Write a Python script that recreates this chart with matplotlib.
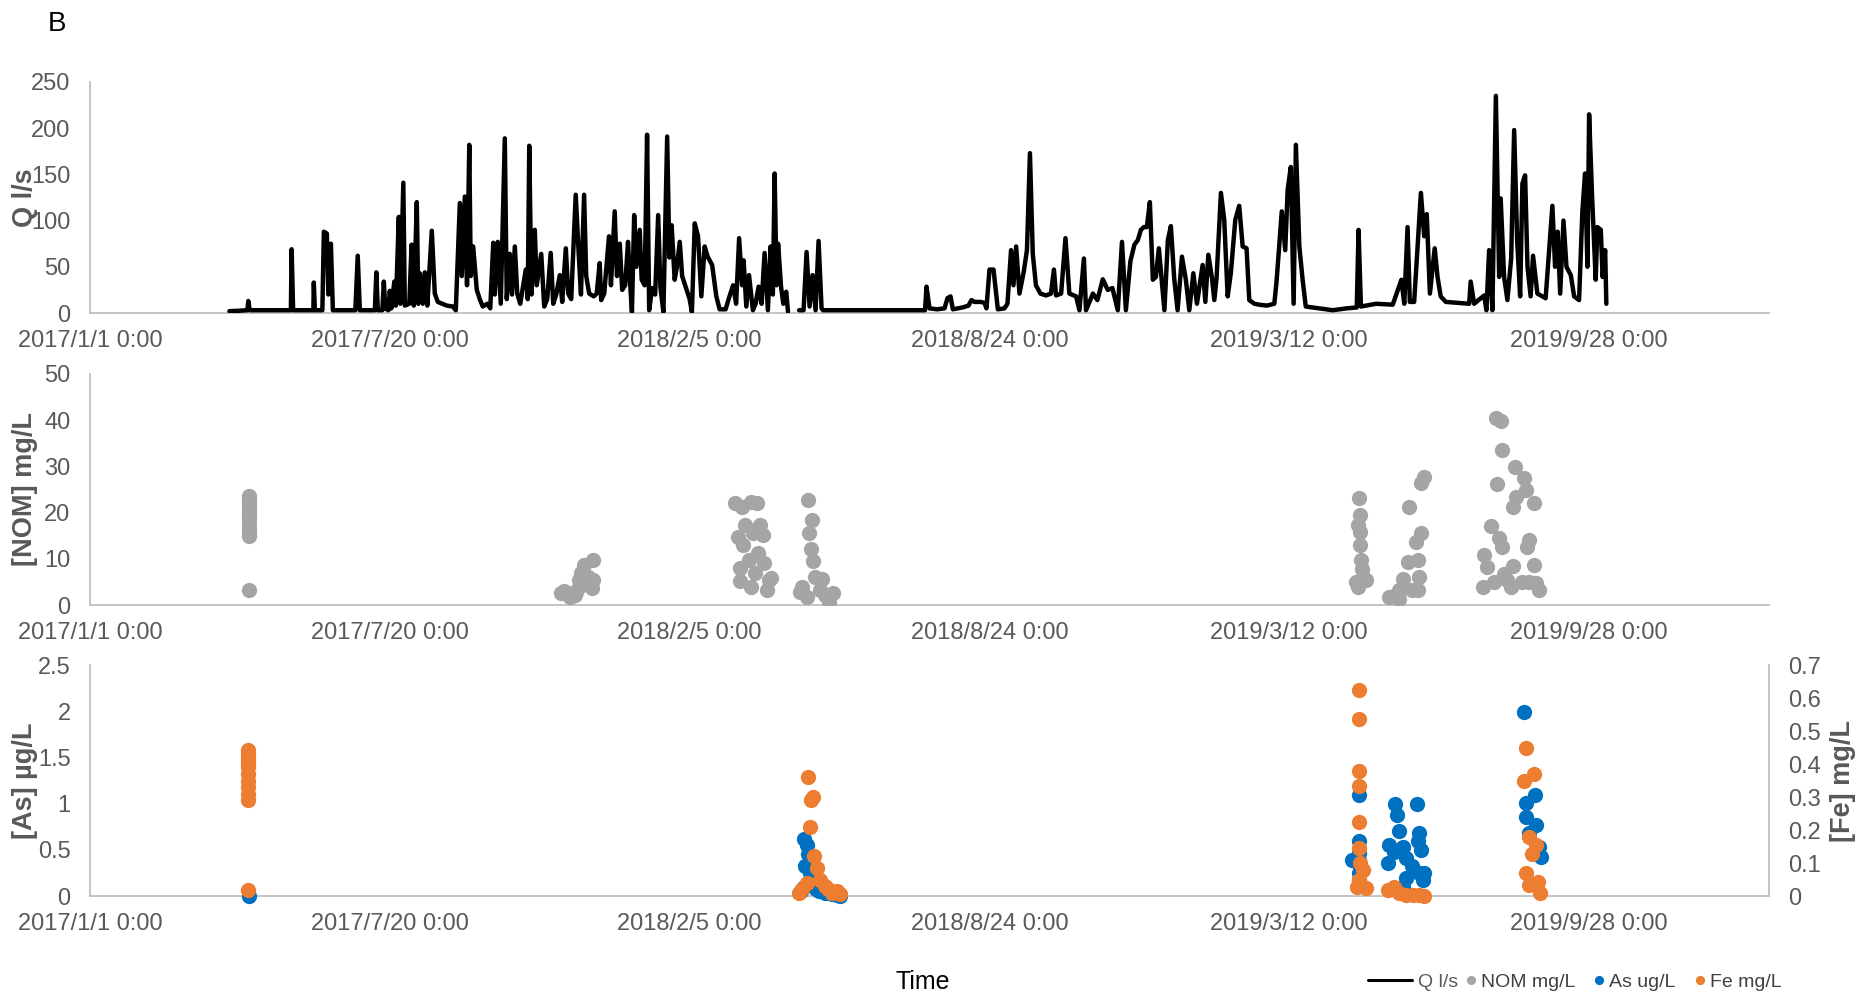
import numpy as np
import pandas as pd
import matplotlib
matplotlib.use("Agg")
import matplotlib.pyplot as plt
import matplotlib.dates as mdates
from matplotlib.ticker import FixedLocator, FuncFormatter

plt.rcParams['font.family'] = ['Liberation Sans', 'DejaVu Sans']

# ---------------- data ----------------
start = pd.Timestamp("2017-01-01")
x_tick_labels = ["2017/1/1 0:00", "2017/7/20 0:00", "2018/2/5 0:00",
                 "2018/8/24 0:00", "2019/3/12 0:00", "2019/9/28 0:00"]
x_max_day = 1120  # days after start where the axis ends

# discharge Q (l/s): day offset from 2017-01-01, value
q_day = [93, 100, 105, 105.6, 106.5, 120, 134, 134.5, 135.5, 149, 149.3, 150, 155, 156, 158, 159, 160.7, 162,
         177, 178.6, 180, 190, 191, 192, 195, 196, 197, 199, 200, 201, 203, 204, 206, 207, 209, 210, 213, 214.5,
         216, 218, 219, 220, 222, 223.4, 225, 228, 230, 232, 235, 238, 242, 244, 246.7, 248, 250, 251.5, 253,
         254, 255.6, 258, 260, 262, 265, 267, 269, 270, 272, 274, 276.7, 278, 280, 281.5, 283.4, 285, 287,
         290.7, 292, 293, 294.5, 296.7, 298, 301, 303, 305, 307.3, 309, 311, 313.4, 315, 317.4, 319, 321, 324,
         326, 327.5, 329.6, 331, 333, 336, 338, 340, 341, 343, 346.2, 347.5, 350, 351.5, 353.4, 355, 357, 358.9,
         360, 361.5, 363, 364.5, 366.7, 368, 370, 371.6, 373, 375, 377, 379, 380.5, 382.5, 385, 386.5, 388, 390,
         391.5, 393.4, 395, 398, 400, 401.5, 403.4,
         405.6, 407.8, 410, 412, 415, 417.8, 420, 424, 426, 429, 431, 433, 435, 436, 437.8, 439.6, 442.2, 444,
         446, 448, 450, 452.2, 454, 455.5, 456.7, 458, 459, 461, 462.5, 464.4, 465.6, 469,
         473, 476, 478, 480, 482, 484, 486, 488, 489, 500, 520, 540, 557, 558, 560, 565, 570, 572, 574, 575.6,
         582, 586, 588, 590, 594, 596.7, 598, 600, 602.7, 605.6, 610, 612, 614.4, 616, 617.8, 620, 622.9, 625,
         627, 628.9, 631, 634, 637.8, 641, 643, 644.4, 647.8, 650.7, 653.3, 657.8, 660, 663, 664.4, 669, 672,
         675.6, 678.9, 682, 685.6, 688.4, 691, 694, 696.7, 699, 701, 703, 705, 707, 709, 711, 713,
         716.7, 719, 721, 723.3, 725.5, 728.4, 731, 733.3, 736, 738.4, 742.2, 744, 746, 748.4, 750, 751.5,
         754.4, 756.6, 758.9, 761, 764, 766.6, 768.9, 771.5, 773.3, 776.7, 780, 785, 790, 791.5, 795, 797.3,
         798.9, 801, 802.9, 804.4, 806.7, 808.9, 811, 820, 829, 838, 845, 846.2, 847.8, 858, 869, 874.8, 876.7,
         878.9, 880.4, 883.3, 887.8, 890, 891.7, 893.8, 897, 898.9, 901, 904.4, 920, 921, 923.3, 930, 931.5,
         933.3, 935.5, 937.8, 940, 941, 943.3, 945.5, 948, 950, 952, 954, 955.5, 957.3, 958.9, 961, 962.6,
         965.5, 971, 975.5, 977.3, 979, 980.7, 982.9, 984.9, 987.8, 990, 993.3, 995.5, 997.3, 998.9, 1000,
         1002, 1004.4, 1005.5, 1007.8, 1009, 1010.7, 1011.5]
q_val = [2, 2.5, 3, 13, 3, 3, 3, 69, 3, 3, 33, 3, 3, 88, 86, 20, 75, 3,
         3, 62, 3, 3, 44, 3, 3, 34, 5, 3, 24, 5, 34, 8, 104, 10, 141, 8, 10, 74,
         8, 120, 10, 43, 10, 44, 8, 89, 21, 12, 10, 8, 7, 3, 119, 40, 126, 30, 182,
         40, 72, 25, 15, 7, 10, 5, 76, 20, 77, 10, 189, 15, 64, 20, 72, 21, 10,
         47, 15, 181, 20, 90, 30, 64, 7, 15, 65, 10, 20, 41, 12, 70, 21, 15, 128,
         64, 20, 128, 40, 21, 18, 21, 54, 14, 21, 83, 30, 110, 40, 75, 25, 30, 77,
         40, 1, 106, 50, 90, 36, 30, 193, 3, 27, 20, 106, 28, 1, 191, 60, 95, 36,
         50, 77, 40, 25, 15, 1, 97,
         83, 18, 72, 61, 52, 18, 4, 4, 15, 30, 10, 81, 30, 57, 7, 41, 3, 10,
         28.5, 10, 65, 3, 72, 20, 151, 30, 75, 28, 10, 23, 1.5, np.nan,
         3, 3, 66, 7, 41, 3, 78, 5, 3, 3, 3, 3, 3, 28.5, 5, 4, 5, 16, 18, 4,
         6, 8, 14, 12, 12, 11, 5, 47, 47, 4, 5, 10, 68, 30, 72, 21, 45, 68,
         173, 64, 30, 21, 19, 21, 47, 19, 21, 81, 21, 18, 3, 59, 3, 21, 14,
         36.5, 25, 27, 3, 77, 3, 56, 74, 79, 90, 93, 93, 120, 36, 39, 70,
         3, 79, 94, 36, 3, 61, 36, 3, 43, 10, 52, 12, 63, 38, 14, 38,
         130, 101, 18, 43, 101, 116, 72, 70, 14, 10, 9, 8, 10, 34, 110, 68,
         133, 158, 10, 182, 72, 36, 7, 5, 3, 5, 6, 90, 7, 10, 9, 36, 10,
         93, 12, 12, 130, 83, 107, 21, 70, 39, 18, 12, 10, 34, 10, 19, 3,
         68, 3, 235, 39, 124, 39, 14, 59, 198, 79, 18, 140, 149, 50, 18, 62,
         21, 16, 116, 50, 88, 21, 100, 50, 41, 18, 14, 110, 151, 50, 215,
         126, 36, 93, 90, 39, 68, 10]

# NOM (mg/L)
nom_day = [106] * 13 + [
    314.4, 318.8, 323.3, 324.8, 326.3, 327.8, 329.3, 335.2, 335.8, 334.6, 332.3, 330, 320, 316,
    430.5, 434.9, 440.9, 444.8, 437, 446.8, 442.4, 448.9, 432, 435.8, 445.4, 439.4, 433.4, 449.8, 433.4,
    440.9, 452.8, 454.3, 451.9, 443.9,
    478.7, 481.6, 479.6, 481.1, 482.5, 483.4, 488.5, 475.1, 473.6, 478.1, 490, 495.9, 493, 487,
    846.7, 847, 846, 847.3, 847, 847.8, 848.4, 849, 845.6, 851, 844.5,
    866.7, 873.3, 880, 887.8, 890, 887.8, 884.4, 879, 885.6, 886.7, 875.6, 882, 885.6, 873, 870,
    937.8, 941, 941.8, 950.7, 938.5, 956.7, 957.8, 951, 949, 963.3, 934.4, 939.6, 942.2, 960, 958.5,
    930, 932, 949, 963.3, 943, 929, 936.7, 947.8, 960, 966.7, 964.4, 945, 955]
nom_val = [23.5, 23.0, 22.5, 21.8, 21.0, 20.2, 19.5, 18.6, 17.5, 16.5, 15.5, 14.9, 3.2,
           2.5, 2.1, 2.1, 3.2, 5.4, 6.9, 8.7, 9.8, 5.4, 3.6, 6.1, 4.5, 1.8, 3.0,
           22.0, 21.3, 22.4, 22.0, 17.3, 17.3, 15.5, 15.2, 14.8, 13.0, 11.2, 9.8, 8.0, 9.0, 5.1,
           4.0, 5.4, 5.8, 3.2, 6.9,
           22.8, 18.4, 15.6, 12.2, 9.6, 6.1, 5.6, 4.0, 2.9, 1.8, 2.1, 2.5, 0.6, 3.2,
           23.1, 19.5, 17.3, 15.8, 13.0, 9.7, 7.9, 6.1, 3.9, 5.4, 5.0,
           1.8, 1.4, 21.3, 26.3, 27.7, 15.5, 13.7, 9.3, 9.7, 6.1, 5.7, 3.2, 3.2, 3.2, 2.0,
           40.4, 39.9, 33.5, 29.9, 26.2, 27.4, 24.9, 23.4, 21.3, 22.1, 17.1, 14.4, 12.6, 14.0, 12.6,
           10.8, 8.3, 8.4, 8.6, 6.8, 3.9, 5.0, 3.9, 5.0, 3.2, 4.7, 5.5, 5.0]

# As (ug/L)
as_day = [106,
          474, 476, 476, 477, 478, 479, 480, 482, 484, 486, 490, 495, 498, 500,
          846.5, 846.5, 846.5, 846.5, 846.5, 846.5, 846.5, 842,
          870.7, 884.9, 871.6, 872.9, 886.7, 866.7, 875.6, 870, 886, 887.8, 865.6, 878, 882, 886.7,
          890, 877.8, 888.9, 875.6,
          956.7, 964, 957.8, 958.2, 964.4, 960, 966.7, 967.8]
as_val = [0.0,
          0.05, 0.1, 0.62, 0.33, 0.55, 0.45, 0.25, 0.15, 0.08, 0.05, 0.03, 0.02, 0.01, 0.0,
          1.09, 0.59, 0.46, 0.39, 0.35, 0.245, 0.17, 0.39,
          1.0, 1.0, 0.88, 0.70, 0.68, 0.55, 0.535, 0.48, 0.59, 0.50, 0.36, 0.41, 0.32, 0.245,
          0.245, 0.19, 0.17, 0.10,
          1.995, 1.09, 1.01, 0.85, 0.77, 0.68, 0.53, 0.425]

# Fe (mg/L)
fe_day = [105.6] * 12 + [
    479, 482, 481, 480, 483, 485, 487, 478, 475, 490, 492, 495, 498, 500, 473,
    846.2, 846.2, 846.2, 846.2, 846.5, 846.7, 847.5, 849.5, 846.2, 845.5, 851,
    865.6, 870, 873.3, 877.8, 882.2, 886.7, 890,
    957.8, 963.3, 956.7, 960, 964.4, 962, 958.2, 965.6, 959.6, 967]
fe_val = [0.442, 0.43, 0.42, 0.41, 0.40, 0.39, 0.37, 0.35, 0.33, 0.31, 0.29, 0.018,
          0.36, 0.30, 0.29, 0.21, 0.12, 0.085, 0.05, 0.04, 0.02, 0.03, 0.02, 0.01, 0.015, 0.005, 0.01,
          0.624, 0.535, 0.379, 0.334, 0.225, 0.145, 0.10, 0.078, 0.049, 0.028, 0.023,
          0.018, 0.028, 0.008, 0.003, 0.003, 0.002, 0.0,
          0.45, 0.369, 0.349, 0.18, 0.154, 0.128, 0.069, 0.043, 0.033, 0.008]

# ---------------- helpers ----------------
def to_dates(days):
    return start + pd.to_timedelta(np.asarray(days, dtype=float), unit="D")

tick_dates = [pd.to_datetime(s.split()[0], format="%Y/%m/%d") for s in x_tick_labels]
tick_nums = mdates.date2num(tick_dates)
x_lo = mdates.date2num(start)
x_hi = mdates.date2num(start + pd.Timedelta(days=x_max_day))

TICK_C = '#595959'
SPINE_C = '#BFBFBF'
LAB_C = '#595959'

fig = plt.figure(figsize=(18.72, 9.97), dpi=100)
L, W, H = 90 / 1872, 1679 / 1872, 231 / 997
ax1 = fig.add_axes([L, (997 - 313) / 997, W, H])
ax2 = fig.add_axes([L, (997 - 605) / 997, W, H])
ax3 = fig.add_axes([L, (997 - 896) / 997, W, H])
ax3b = ax3.twinx()

def style(ax):
    for s in ['top', 'right']:
        ax.spines[s].set_visible(False)
    for s in ['left', 'bottom']:
        ax.spines[s].set_color(SPINE_C)
        ax.spines[s].set_linewidth(1.3)
    ax.set_xlim(x_lo, x_hi)
    ax.xaxis.set_major_locator(FixedLocator(tick_nums))
    ax.set_xticklabels(x_tick_labels)
    ax.tick_params(axis='both', length=0, labelsize=17, labelcolor=TICK_C)
    ax.tick_params(axis='x', pad=12.5)
    ax.tick_params(axis='y', pad=14)
    ax.set_facecolor('none')

style(ax1); style(ax2); style(ax3)

# Q
lq, = ax1.plot(mdates.date2num(to_dates(q_day)), q_val, color='black', lw=3.2,
               solid_joinstyle='round', solid_capstyle='round', zorder=3)
ax1.set_ylim(0, 250)
ax1.set_yticks(np.arange(0, 251, 50))

# NOM
ln, = ax2.plot(mdates.date2num(to_dates(nom_day)), nom_val, 'o', color='#A5A5A5',
               ms=11, mec='none', zorder=3)
ax2.set_ylim(0, 50)
ax2.set_yticks(np.arange(0, 51, 10))

# As / Fe
la, = ax3.plot(mdates.date2num(to_dates(as_day)), as_val, 'o', color='#0070C0',
               ms=11, mec='none', zorder=3, clip_on=False)
ax3.set_ylim(0, 2.5)
ax3.set_yticks([0, 0.5, 1, 1.5, 2, 2.5])
ax3.yaxis.set_major_formatter(FuncFormatter(lambda v, p: f"{v:g}"))

lf, = ax3b.plot(mdates.date2num(to_dates(fe_day)), fe_val, 'o', color='#ED7D31',
                ms=11, mec='none', zorder=3, clip_on=False)
ax3b.set_ylim(0, 0.7)
ax3b.set_yticks(np.arange(0, 0.71, 0.1))
ax3b.yaxis.set_major_formatter(FuncFormatter(lambda v, p: f"{round(v, 1):g}"))
for s in ['top', 'left', 'bottom']:
    ax3b.spines[s].set_visible(False)
ax3b.spines['right'].set_color(SPINE_C)
ax3b.spines['right'].set_linewidth(1.3)
ax3b.tick_params(axis='y', length=0, labelsize=17, labelcolor=TICK_C, pad=14)
ax3b.set_xlim(x_lo, x_hi)

# axis labels
lab_kw = dict(fontsize=19.5, fontweight='bold', color=LAB_C)
for ax, txt in [(ax1, 'Q l/s'), (ax2, '[NOM] mg/L'), (ax3, '[As] µg/L')]:
    ax.set_ylabel(txt, **lab_kw)
    ax.yaxis.label.set_va('center')
    ax.yaxis.set_label_coords((25 - 90) / 1679, 0.5)
ax3b.set_ylabel('[Fe] mg/L', **lab_kw)
ax3b.yaxis.label.set_va('center')
ax3b.yaxis.set_label_coords((1843 - 90) / 1679, 0.5)

ax3.set_xlabel('Time', fontsize=18, color='black')
ax3.xaxis.label.set_va('center')
ax3.xaxis.set_label_coords((923 - 90) / 1679, -86 / 231)

fig.text(57 / 1872, 1 - 24 / 997, 'B', fontsize=20, ha='center', va='center', color='black')

# legends
leg1 = fig.legend([lq], ['Q l/s'], loc='center', bbox_to_anchor=(1413 / 1872, 1 - 982 / 997),
                  frameon=False, fontsize=14, handlelength=2.3, handletextpad=0.3,
                  labelcolor='#595959')
for h in leg1.legend_handles:
    h.set_linewidth(2.2)
leg2 = fig.legend([ln, la, lf], ['NOM mg/L', 'As ug/L', 'Fe mg/L'], loc='center',
                  bbox_to_anchor=(1624 / 1872, 1 - 982 / 997), ncol=3, frameon=False,
                  fontsize=14, handlelength=0.45, handletextpad=0.3, columnspacing=1.0,
                  markerscale=0.6, labelcolor='#404040')

fig.savefig('out.png', dpi=100)
